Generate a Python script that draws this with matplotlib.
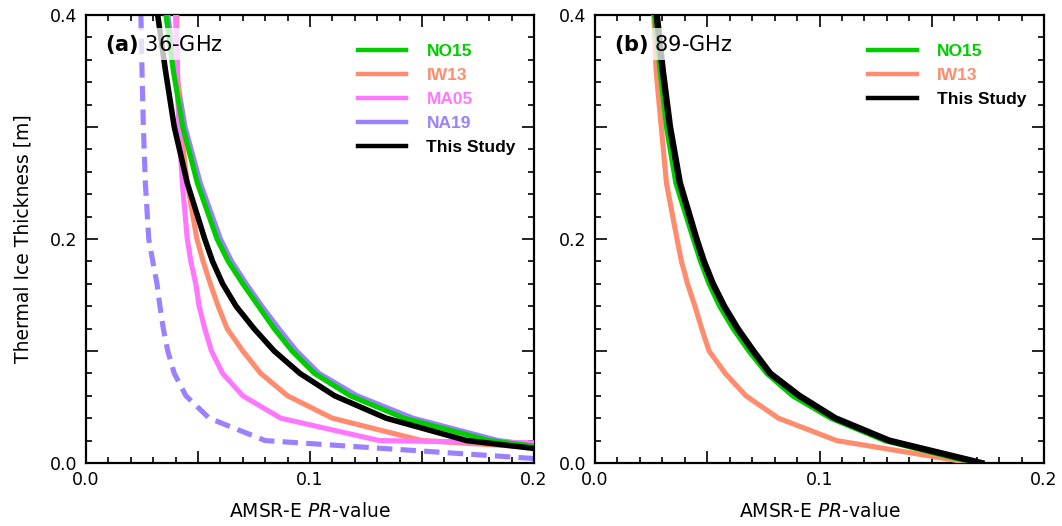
import matplotlib
matplotlib.use("Agg")
import matplotlib.pyplot as plt
from matplotlib.ticker import MultipleLocator, FuncFormatter

# ---- data ----
# panel (a) 36 GHz : thickness [m] vs PR
thk_a = [0.40, 0.35, 0.30, 0.25, 0.20, 0.18, 0.16, 0.14, 0.12, 0.10, 0.08, 0.06, 0.04, 0.02]

no15_a_pr = [0.0357, 0.0390, 0.0432, 0.0497, 0.0585, 0.0635, 0.0700, 0.0770, 0.0840, 0.0920, 0.1020, 0.1180, 0.1420, 0.1800, 0.2000]
no15_a_h = thk_a + [0.015]
iw13_a_pr = [0.0405, 0.0408, 0.0422, 0.0452, 0.0495, 0.0523, 0.0555, 0.0590, 0.0630, 0.0700, 0.0780, 0.0900, 0.1100, 0.1500, 0.2000]
iw13_a_h = thk_a + [0.014]
ma05_a_pr = [0.0400, 0.0405, 0.0415, 0.0430, 0.0452, 0.0468, 0.0490, 0.0505, 0.0530, 0.0560, 0.0610, 0.0700, 0.0870, 0.1310, 0.2000]
ma05_a_h = thk_a + [0.018]
na19_a_pr = [0.0365, 0.0400, 0.0442, 0.0510, 0.0600, 0.0650, 0.0715, 0.0785, 0.0860, 0.0940, 0.1040, 0.1210, 0.1460, 0.1840, 0.2000]
na19_a_h = thk_a + [0.016]
na19d_a_pr = [0.0245, 0.0250, 0.0256, 0.0265, 0.0280, 0.0298, 0.0317, 0.0330, 0.0345, 0.0365, 0.0394, 0.0446, 0.0550, 0.0800, 0.2000]
na19d_a_h = thk_a + [0.004]
this_a_pr = [0.0320, 0.0355, 0.0394, 0.0452, 0.0530, 0.0565, 0.0610, 0.0670, 0.0750, 0.0840, 0.0955, 0.1110, 0.1340, 0.1700, 0.2000]
this_a_h = thk_a + [0.013]

# panel (b) 89 GHz
thk_b = [0.40, 0.35, 0.30, 0.25, 0.20, 0.18, 0.16, 0.14, 0.12, 0.10, 0.08, 0.06, 0.04, 0.02, 0.00]
no15_b_pr = [0.0265, 0.0290, 0.0318, 0.0360, 0.0438, 0.0470, 0.0508, 0.0555, 0.0615, 0.0685, 0.0765, 0.0880, 0.1050, 0.1290, 0.1690]
iw13_b_pr = [0.0262, 0.0272, 0.0295, 0.0318, 0.0365, 0.0385, 0.0412, 0.0445, 0.0475, 0.0508, 0.0580, 0.0672, 0.0817, 0.1076, 0.1680]
this_b_pr = [0.0275, 0.0302, 0.0334, 0.0378, 0.0452, 0.0485, 0.0525, 0.0575, 0.0635, 0.0705, 0.0780, 0.0910, 0.1070, 0.1310, 0.1720]

c_green = '#00cc00'
c_salmon = '#ff8c6e'
c_magenta = '#ff77ff'
c_purple = '#9b80ff'


def style_axes(ax):
    ax.set_xlim(0, 0.2)
    ax.set_ylim(0, 0.4)
    ax.xaxis.set_major_locator(MultipleLocator(0.05))
    ax.xaxis.set_minor_locator(MultipleLocator(0.01))
    ax.yaxis.set_major_locator(MultipleLocator(0.1))
    ax.yaxis.set_minor_locator(MultipleLocator(0.02))
    ax.xaxis.set_major_formatter(FuncFormatter(
        lambda v, p: f"{v:.1f}" if abs(v * 10 - round(v * 10)) < 1e-6 else ""))
    ax.yaxis.set_major_formatter(FuncFormatter(
        lambda v, p: f"{v:.1f}" if abs(v * 5 - round(v * 5)) < 1e-6 else ""))
    ax.tick_params(which='both', direction='in', top=True, right=True, width=1.2, labelsize=12.5)
    ax.tick_params(which='major', length=8.5, pad=6)
    ax.tick_params(which='minor', length=4.5)
    for s in ax.spines.values():
        s.set_linewidth(1.6)
    ax.set_xlabel('AMSR-E $PR$-value', fontsize=13.5, labelpad=9)


fig = plt.figure(figsize=(10.62, 5.26), dpi=100)
ax1 = fig.add_axes([0.081, 0.1198, 0.4218, 0.8517])
ax2 = fig.add_axes([0.5603, 0.1198, 0.4228, 0.8517])

lw = 3.7
ax1.plot(na19d_a_pr, na19d_a_h, color=c_purple, lw=lw, ls=(0, (3, 1.6)), zorder=2)
ax1.plot(na19_a_pr, na19_a_h, color=c_purple, lw=lw, label='NA19', zorder=3)
ax1.plot(ma05_a_pr, ma05_a_h, color=c_magenta, lw=lw, label='MA05', zorder=4)
ax1.plot(iw13_a_pr, iw13_a_h, color=c_salmon, lw=lw, label='IW13', zorder=3.5)
ax1.plot(no15_a_pr, no15_a_h, color=c_green, lw=lw, label='NO15', zorder=5)
ax1.plot(this_a_pr, this_a_h, color='black', lw=4.0, label='This Study', zorder=6)

ax2.plot(iw13_b_pr, thk_b, color=c_salmon, lw=lw, label='IW13', zorder=3)
ax2.plot(no15_b_pr, thk_b, color=c_green, lw=lw, label='NO15', zorder=4)
ax2.plot(this_b_pr, thk_b, color='black', lw=4.6, label='This Study', zorder=5)

for ax, tag, order in [(ax1, r'$\bf{(a)}$ 36-GHz', ['NO15', 'IW13', 'MA05', 'NA19', 'This Study']),
                       (ax2, r'$\bf{(b)}$ 89-GHz', ['NO15', 'IW13', 'This Study'])]:
    style_axes(ax)
    hd = {l.get_label(): l for l in ax.get_lines() if not l.get_label().startswith('_')}
    leg = ax.legend([hd[k] for k in order], order, loc='upper right', frameon=False,
                    bbox_to_anchor=(0.975, 0.952), borderaxespad=0,
                    handlelength=2.8, handletextpad=1.15, labelspacing=0.52,
                    labelcolor='linecolor',
                    prop={'family': 'Liberation Sans', 'weight': 'bold', 'size': 12.5})
    for ln in leg.get_lines():
        ln.set_linewidth(3.2)
    ax.text(0.042, 0.935, tag, transform=ax.transAxes, fontsize=15, va='center', ha='left',
            zorder=10, bbox=dict(facecolor='white', edgecolor='none', alpha=0.75, pad=3))

ax1.set_ylabel('Thermal Ice Thickness [m]', fontsize=13.5, labelpad=13)

fig.savefig('out.png', dpi=100)
